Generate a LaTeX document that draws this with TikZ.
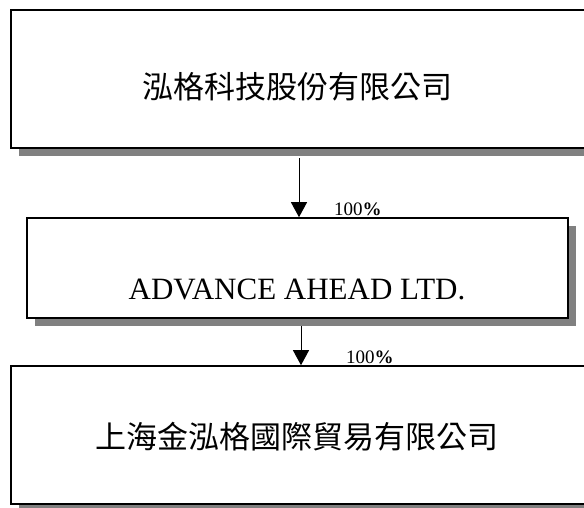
\documentclass[tikz,border=0pt]{standalone}
\usepackage{fontspec}
\setmainfont{Liberation Serif}
\newfontfamily\cjk{Noto Sans CJK TC}
\usetikzlibrary{arrows.meta,shadows}
\definecolor{shadowgray}{RGB}{128,128,128}
\begin{document}
\begin{tikzpicture}[x=1pt,y=-1pt,
  box/.style={draw=black, line width=1.6pt, fill=white, rectangle, inner sep=0pt,
    drop shadow={shadow xshift=8pt, shadow yshift=-8pt, fill=shadowgray, opacity=1}},
  cjktext/.style={inner sep=0pt, font=\cjk\fontsize{31}{31}\selectfont},
  entext/.style={inner sep=0pt, font=\fontsize{31}{31}\selectfont},
  pct/.style={inner sep=0pt, anchor=base west, font=\fontsize{19}{19}\selectfont},
  arr/.style={line width=1pt, -{Triangle[width=16pt,length=15pt]}}]
\useasboundingbox (0,0) rectangle (584,507);
\fill[white] (0,0) rectangle (584,507);
\clip (0,0) rectangle (584,507);
% boxes
\node[box, minimum width=585pt, minimum height=138pt] (b1) at (303.5,79) {};
\node[box, minimum width=541pt, minimum height=100pt] (b2) at (297.5,268) {};
\node[box, minimum width=585pt, minimum height=138pt] (b3) at (303.5,435) {};
% texts
\node[cjktext] (t1) at (297,87) {泓格科技股份有限公司};
\node[entext] (t2) at (297,289) {ADVANCE AHEAD LTD.};
\node[cjktext] (t3) at (297,437) {上海金泓格國際貿易有限公司};
% connectors
\coordinate (a1) at (299,158);
\coordinate (a2) at (301,326);
\draw[arr] (a1) -- (a1 |- b2.north);
\draw[arr] (a2) -- (a2 |- b3.north);
% labels
\node[pct] (p1) at (334,215) {100\textbf{\%}};
\node[pct] (p2) at (346,363) {100\textbf{\%}};
\end{tikzpicture}
\end{document}
